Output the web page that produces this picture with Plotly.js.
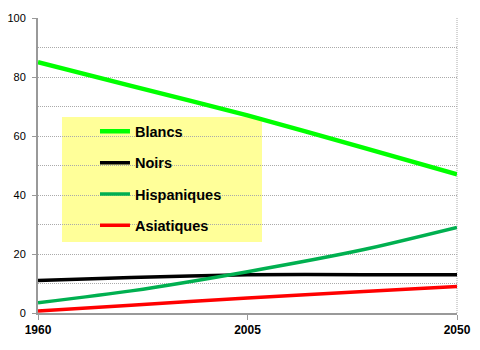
<!DOCTYPE html>
<html><head><meta charset="utf-8">
<script src="https://cdn.plot.ly/plotly-3.0.1.min.js"></script>
<style>html,body{margin:0;padding:0;background:#fff}#c{width:480px;height:350px}</style>
</head><body><div id="c"></div>
<script>
const years = [1960, 1980, 2005, 2030, 2050];
const blancs = [85, 77, 67, 56, 47];
const noirs = [11, 12, 13, 13, 13];
const hispaniques = [3.5, 7.5, 14, 21.5, 29];
const asiatiques = [0.7, 2.6, 5.1, 7.3, 9.0];
const seriesNames = ['Blancs', 'Noirs', 'Hispaniques', 'Asiatiques'];
const xTicks = [1960, 2005, 2050];
const yTicks = [0, 20, 40, 60, 80, 100];

const colors = ['#00FF00', '#000000', '#00B050', '#FF0000'];
const widths = [4.5, 3.5, 3.5, 3.5];
const vals = [blancs, noirs, hispaniques, asiatiques];
const traces = vals.map((v, i) => ({
  x: years, y: v, type: 'scatter', mode: 'lines', name: seriesNames[i],
  legendgroup: 'g' + i,
  line: {color: colors[i], width: widths[i], shape: 'spline', smoothing: 0.6}
}));

const gridDash = '1px,1px';
const layout = {
  width: 480, height: 350,
  margin: {l: 38, r: 23, t: 18, b: 37},
  paper_bgcolor: '#fff', plot_bgcolor: '#fff',
  font: {family: 'Liberation Sans, Arial, sans-serif', color: '#000'},
  showlegend: true,
  legend: {
    x: 0.136, y: 0.67, xanchor: 'left', yanchor: 'top',
    bgcolor: 'rgba(0,0,0,0)', borderwidth: 0,
    traceorder: 'grouped', tracegroupgap: 9.5,
    font: {size: 14.5, family: 'Liberation Sans, Arial, sans-serif', weight: 'bold', color: '#000'}
  },
  xaxis: {
    range: [1960, 2050], tickvals: xTicks, ticktext: xTicks.map(String),
    showgrid: false, zeroline: false,
    showline: true, linecolor: '#999', linewidth: 2,
    ticks: 'outside', ticklen: 5, tickcolor: '#999', tickwidth: 1,
    tickfont: {size: 12, weight: 'bold', family: 'Liberation Sans, Arial, sans-serif'}
  },
  yaxis: {
    range: [0, 100], tickvals: yTicks, ticktext: yTicks.map(String),
    showgrid: true, gridcolor: '#aaaaaa', gridwidth: 1, griddash: gridDash,
    minor: {dtick: 10, showgrid: true, gridcolor: '#aaaaaa', griddash: gridDash, ticks: ''},
    zeroline: false, showline: true, linecolor: '#999', linewidth: 2,
    ticks: 'outside', ticklen: 4, tickcolor: '#999',
    tickfont: {size: 11},
    ticklabelstandoff: 4
  },
  shapes: [
    {type: 'rect', xref: 'paper', yref: 'paper', x0: 24/419, x1: 224/419,
     y0: (313-242)/295, y1: (313-117)/295, fillcolor: '#FFFF99',
     line: {width: 0}, layer: 'between'},
    {type: 'line', xref: 'paper', yref: 'paper', x0: 1, x1: 1, y0: 0, y1: 1,
     line: {color: '#aaaaaa', width: 1, dash: gridDash}, layer: 'below'}
  ]
};
Plotly.newPlot('c', traces, layout, {displayModeBar: false, staticPlot: true});
</script></body></html>
